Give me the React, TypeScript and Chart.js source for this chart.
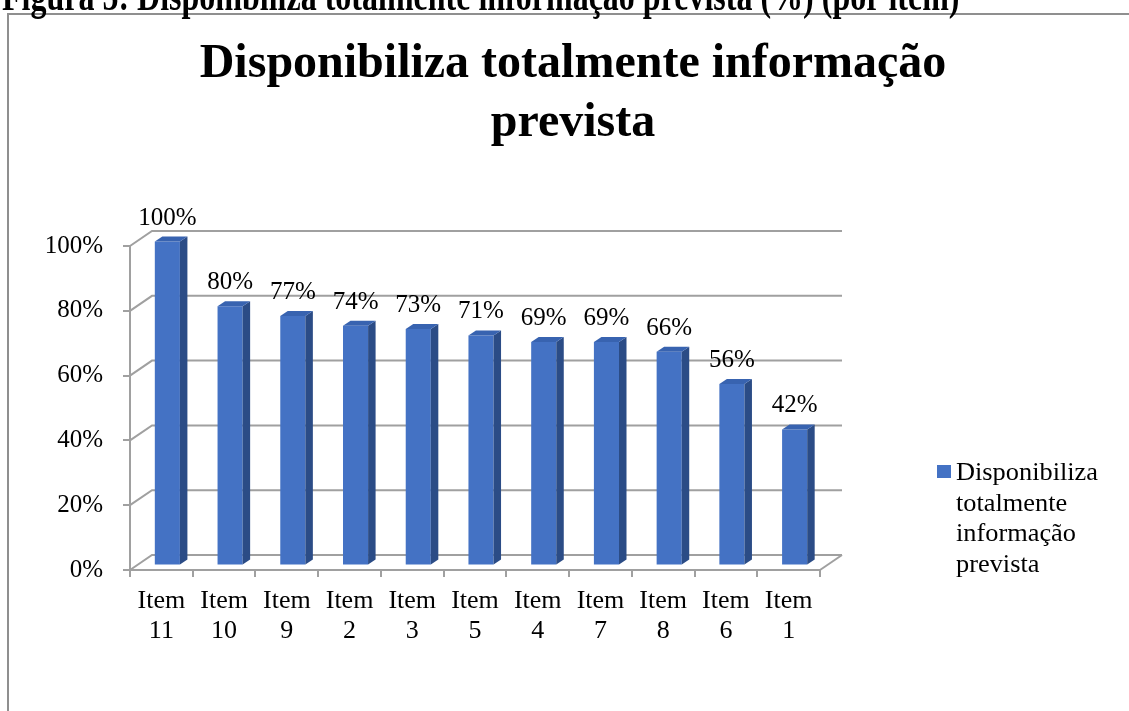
import React, { useEffect, useRef } from 'react';
import { Chart, registerables } from 'chart.js';

Chart.register(...registerables);

// ---- data ----
const categories: string[][] = [
  ['Item', '11'], ['Item', '10'], ['Item', '9'], ['Item', '2'], ['Item', '3'], ['Item', '5'],
  ['Item', '4'], ['Item', '7'], ['Item', '8'], ['Item', '6'], ['Item', '1'],
];
const values: number[] = [100, 80, 77, 74, 73, 71, 69, 69, 66, 56, 42];
const yTickValues: number[] = [0, 20, 40, 60, 80, 100];
const seriesName = 'Disponibiliza totalmente informação prevista';
const titleLines: string[] = ['Disponibiliza totalmente informação', 'prevista'];
const legendLines: string[] = ['Disponibiliza', 'totalmente', 'informação', 'prevista'];
const caption = 'Figura 5: Disponibiliza totalmente informação prevista (%) (por item)';

// ---- style ----
const W = 1129;
const H = 711;
const SERIF = "'Liberation Serif', 'Times New Roman', serif";
const FRONT = '#4472C4';
const SIDE = '#2B4C86';
const TOP = '#3863B0';
const GRID = '#a0a0a0';
const FRAME = '#8f8f8f';
const WALL_DX = 22;
const WALL_DY = -15;
const BAR_SHIFT_X = 6;
const BAR_SHIFT_Y = -4.5;
const BAR_DX = 7.5;
const BAR_DY = -5;

const decorPlugin = {
  id: 'decor',
  beforeDraw(chart: any) {
    const ctx = chart.ctx as CanvasRenderingContext2D;
    ctx.save();
    ctx.fillStyle = '#ffffff';
    ctx.fillRect(0, 0, W, H);

    // frame
    ctx.strokeStyle = FRAME;
    ctx.lineWidth = 2;
    ctx.beginPath();
    ctx.moveTo(8, H + 2);
    ctx.lineTo(8, 14);
    ctx.lineTo(W + 2, 14);
    ctx.stroke();

    // caption (cut off at top)
    ctx.fillStyle = '#000';
    ctx.textBaseline = 'alphabetic';
    ctx.textAlign = 'left';
    ctx.font = `bold 100px ${SERIF}`;
    const cw = ctx.measureText(caption).width;
    const cSize = (958 / cw) * 100;
    ctx.font = `bold ${cSize}px ${SERIF}`;
    ctx.save();
    ctx.translate(2, 10);
    ctx.scale(1, 1.35);
    ctx.fillText(caption, 0, 0);
    ctx.restore();

    // title
    ctx.font = `bold 48px ${SERIF}`;
    ctx.textAlign = 'center';
    ctx.fillText(titleLines[0], 573, 77);
    ctx.fillText(titleLines[1], 573, 136);

    // legend
    ctx.fillStyle = FRONT;
    ctx.fillRect(937, 465, 14, 13);
    ctx.fillStyle = '#000';
    ctx.textAlign = 'left';
    ctx.font = `25px ${SERIF}`;
    const lw = ctx.measureText(legendLines[0]).width;
    const sx = 142 / lw;
    legendLines.forEach((l, i) => {
      ctx.save();
      ctx.translate(956, 480 + i * 30.7);
      ctx.scale(sx, 1);
      ctx.fillText(l, 0, 0);
      ctx.restore();
    });
    ctx.restore();
  },
  beforeDatasetsDraw(chart: any) {
    const ctx = chart.ctx as CanvasRenderingContext2D;
    const y = chart.scales.y;
    const { left, right } = chart.chartArea;
    ctx.save();
    ctx.strokeStyle = GRID;
    ctx.lineWidth = 2;
    yTickValues.forEach((v) => {
      const py = y.getPixelForValue(v);
      ctx.beginPath();
      ctx.moveTo(left, py);
      ctx.lineTo(left + WALL_DX, py + WALL_DY);
      ctx.lineTo(right + WALL_DX, py + WALL_DY);
      ctx.stroke();
    });
    const p0 = y.getPixelForValue(0);
    ctx.beginPath();
    ctx.moveTo(right, p0);
    ctx.lineTo(right + WALL_DX, p0 + WALL_DY);
    ctx.stroke();
    ctx.restore();

    ctx.save();
    ctx.translate(BAR_SHIFT_X, BAR_SHIFT_Y);
  },
  afterDatasetsDraw(chart: any) {
    const ctx = chart.ctx as CanvasRenderingContext2D;
    const meta = chart.getDatasetMeta(0);
    meta.data.forEach((bar: any) => {
      const { x, y, base, width } = bar.getProps(['x', 'y', 'base', 'width'], true);
      const l = x - width / 2;
      const r = x + width / 2;
      ctx.fillStyle = SIDE;
      ctx.beginPath();
      ctx.moveTo(r, y);
      ctx.lineTo(r + BAR_DX, y + BAR_DY);
      ctx.lineTo(r + BAR_DX, base + BAR_DY);
      ctx.lineTo(r, base);
      ctx.closePath();
      ctx.fill();
      ctx.fillStyle = TOP;
      ctx.beginPath();
      ctx.moveTo(l, y);
      ctx.lineTo(l + BAR_DX, y + BAR_DY);
      ctx.lineTo(r + BAR_DX, y + BAR_DY);
      ctx.lineTo(r, y);
      ctx.closePath();
      ctx.fill();
    });
    ctx.restore();

    // data labels
    ctx.save();
    ctx.fillStyle = '#000';
    ctx.font = `25px ${SERIF}`;
    ctx.textAlign = 'center';
    ctx.textBaseline = 'alphabetic';
    meta.data.forEach((bar: any, i: number) => {
      const { x, y } = bar.getProps(['x', 'y'], true);
      ctx.fillText(values[i] + '%', x + BAR_SHIFT_X, y + BAR_SHIFT_Y - 17);
    });
    ctx.restore();
  },
};

export default function App() {
  const ref = useRef<HTMLCanvasElement | null>(null);
  useEffect(() => {
    if (!ref.current) return;
    const chart = new Chart(ref.current, {
      type: 'bar',
      data: {
        labels: categories,
        datasets: [
          {
            label: seriesName,
            data: values,
            backgroundColor: FRONT,
            borderWidth: 0,
            barPercentage: 0.4,
            categoryPercentage: 1,
            clip: false as any,
          },
        ],
      },
      options: {
        responsive: false,
        animation: false,
        devicePixelRatio: 1,
        layout: { padding: { top: 246, right: 309, bottom: 0, left: 0 } },
        plugins: {
          legend: { display: false },
          title: { display: false },
          tooltip: { enabled: false },
        },
        scales: {
          x: {
            offset: true,
            grid: {
              display: true,
              drawOnChartArea: false,
              drawTicks: true,
              tickLength: 7,
              color: GRID,
              lineWidth: 2,
              offset: true,
            },
            border: { display: true, color: GRID, width: 2 },
            ticks: {
              color: '#000',
              font: { family: SERIF, size: 26, lineHeight: 1.17 },
              padding: 9,
              maxRotation: 0,
              autoSkip: false,
            },
            afterFit: (s: any) => {
              s.height = 141;
            },
          },
          y: {
            min: 0,
            max: 100,
            grid: {
              display: true,
              drawOnChartArea: false,
              drawTicks: true,
              tickLength: 7,
              color: GRID,
              lineWidth: 2,
            },
            border: { display: true, color: GRID, width: 2 },
            ticks: {
              stepSize: 20,
              color: '#000',
              font: { family: SERIF, size: 25 },
              padding: 20,
              callback: (v: any) => v + '%',
            },
            afterFit: (s: any) => {
              s.width = 130;
            },
          },
        },
      },
      plugins: [decorPlugin],
    });
    return () => chart.destroy();
  }, []);
  return (
    <div style={{ position: 'fixed', left: 0, top: 0, width: W, height: H, background: '#fff' }}>
      <canvas ref={ref} width={W} height={H} style={{ display: 'block' }} />
    </div>
  );
}
